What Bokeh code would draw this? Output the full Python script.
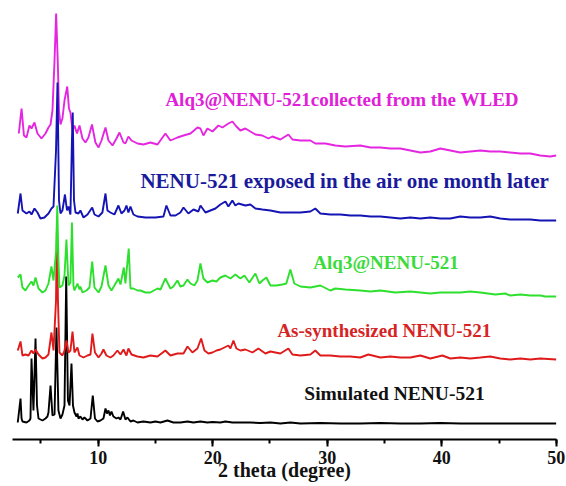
from bokeh.plotting import figure
from bokeh.models import Range1d, Label, SingleIntervalTicker
from bokeh.embed import file_html
from bokeh.resources import INLINE

# ---- data: 2 theta (degree) and stacked intensity (a.u.) ----
sim_x = [2.98, 3.22, 3.31, 3.39, 3.74, 4.00, 4.09, 4.18, 4.35, 4.53, 4.66, 4.79, 5.14, 5.40, 5.57, 5.66,
         5.84, 6.01, 6.19, 6.36, 6.53, 6.71, 6.88, 7.06, 7.21, 7.36, 7.50, 7.67, 7.80, 7.93, 8.11, 8.19,
         8.28, 8.45, 8.63, 8.80, 9.07, 9.33, 9.53, 9.72, 9.94, 10.20, 10.46, 10.64, 10.77, 10.90, 11.03,
         11.16, 11.33, 11.60, 11.77, 11.95, 12.18, 12.38, 12.56, 12.82, 13.08, 13.43, 13.95, 14.56, 15.00,
         15.44, 16.05, 16.57, 17.18, 17.80, 18.32, 18.93, 19.54, 19.98, 20.67, 21.11, 21.72, 22.42, 23.29,
         24.17, 25.04, 25.91, 26.78, 27.66, 29.40, 31.15, 32.89, 34.64, 36.38, 38.13, 39.88, 41.62, 43.37,
         45.11, 46.86, 48.60, 50.00]
sim_y = [17, 41, 21, 18, 17, 19, 21, 81, 29, 101, 34, 21, 19, 21, 23, 27,
         54, 24, 25, 112, 29, 21, 25, 34, 163, 39, 34, 76, 34, 27, 23, 26,
         21, 23, 20, 22, 19, 21, 44, 21, 18, 19, 21, 31, 26, 29, 24,
         28, 23, 21, 22, 20, 28, 20, 22, 18, 19, 17, 18, 17, 18,
         17, 19, 17, 17, 18, 17, 18, 17, 17.5, 17, 18, 17, 17, 17,
         16.5, 17, 16, 17, 16, 16.5, 16, 16, 16.5, 16, 16, 16.5, 16, 16,
         16, 16, 16, 16]

asy_x = [2.98, 3.22, 3.39, 3.65, 3.92, 4.18, 4.35, 4.53, 4.79, 5.14, 5.40, 5.66, 5.92, 6.10, 6.32, 6.40,
         6.49, 6.62, 6.88, 7.06, 7.23, 7.41, 7.58, 7.76, 7.93, 8.19, 8.37, 8.72, 9.07, 9.33, 9.50, 9.72,
         10.03, 10.29, 10.46, 10.72, 11.07, 11.33, 11.68, 11.95, 12.21, 12.47, 12.64, 12.91, 13.43, 13.95,
         14.56, 15.18, 15.87, 16.31, 16.92, 17.45, 17.80, 18.23, 18.67, 18.99, 19.28, 19.63, 19.98, 20.33,
         20.67, 21.02, 21.37, 21.55, 21.81, 22.07, 22.42, 22.86, 23.47, 23.99, 24.60, 25.04, 25.91, 26.61,
         26.96, 27.66, 28.53, 28.96, 29.40, 30.27, 31.15, 32.02, 32.89, 33.59, 34.64, 35.51, 36.38, 37.26,
         38.13, 39.00, 40.05, 40.75, 41.62, 42.49, 43.37, 44.24, 45.11, 45.98, 46.86, 47.73, 48.60, 50.00]
asy_y = [89, 98, 84, 85, 84, 89, 86, 90, 85, 81, 82, 85, 107, 89, 139, 214,
         139, 87, 84, 89, 99, 87, 89, 108, 87, 92, 84, 82, 84, 85, 106, 87,
         82, 86, 90, 84, 82, 84, 89, 85, 90, 84, 91, 85, 83, 82,
         84, 83, 89, 84, 86, 86, 93, 87, 91, 101, 89, 86, 87, 89,
         90, 92, 94, 91, 99, 91, 89, 90, 87, 91, 86, 88, 86, 91,
         85, 84, 85, 89, 84, 84, 83, 83, 82, 85, 82, 83, 82, 82,
         84, 81, 84, 81, 82, 81, 82, 83, 81, 80, 81, 80, 81, 80]

alq_x = [2.98, 3.22, 3.39, 3.65, 3.92, 4.18, 4.35, 4.53, 4.79, 5.14, 5.40, 5.66, 5.92, 6.10, 6.33, 6.43,
         6.53, 6.62, 6.88, 7.06, 7.23, 7.41, 7.58, 7.71, 7.84, 7.93, 8.19, 8.37, 8.45, 8.63, 8.98, 9.24,
         9.48, 9.68, 10.03, 10.29, 10.64, 10.90, 11.16, 11.42, 11.77, 11.95, 12.24, 12.38, 12.67, 12.82,
         13.08, 13.43, 13.69, 14.13, 14.56, 15.18, 15.44, 15.87, 16.31, 16.57, 16.92, 17.18, 17.45, 17.80,
         18.06, 18.40, 18.67, 18.93, 19.19, 19.54, 19.98, 20.33, 20.67, 21.11, 21.55, 21.98, 22.42, 22.77,
         23.20, 23.73, 24.08, 24.34, 24.69, 25.04, 25.56, 26.08, 26.43, 26.78, 27.13, 27.66, 28.53, 29.40,
         30.27, 30.71, 31.58, 32.89, 33.77, 34.64, 35.95, 37.26, 38.13, 39.00, 39.88, 40.75, 41.62, 42.49,
         43.37, 44.67, 45.55, 45.98, 46.86, 47.73, 48.60, 49.04, 50.00]
alq_y = [162, 165, 152, 149, 154, 158, 154, 162, 151, 147, 149, 156, 173, 159, 189, 234,
         179, 152, 154, 164, 200, 154, 157, 217, 154, 149, 156, 150, 153, 147, 149, 152,
         178, 152, 147, 153, 174, 154, 149, 154, 161, 155, 172, 156, 191, 151,
         151, 149, 149, 147, 147, 151, 150, 161, 151, 153, 159, 153, 154, 160,
         156, 154, 159, 176, 161, 157, 159, 158, 162, 164, 161, 165, 161, 164,
         157, 166, 156, 159, 162, 154, 154, 155, 156, 170, 156, 153, 152, 154,
         149, 151, 150, 149, 148, 149, 147, 148, 147, 146, 147, 147, 147, 148,
         147, 145, 146, 144, 145, 144, 144, 143, 143]

air_x = [2.98, 3.22, 3.39, 3.74, 4.00, 4.18, 4.44, 4.70, 4.96, 5.31, 5.66, 5.92, 6.10, 6.32, 6.45, 6.58,
         6.71, 6.88, 7.10, 7.28, 7.41, 7.58, 7.71, 7.78, 7.89, 8.02, 8.28, 8.45, 8.72, 9.07, 9.48, 9.68,
         10.03, 10.37, 10.64, 10.81, 11.07, 11.42, 11.77, 12.03, 12.30, 12.47, 12.64, 12.82, 13.08, 13.43,
         14.13, 15.00, 15.70, 15.96, 16.31, 16.75, 17.18, 17.45, 17.88, 18.32, 18.75, 18.93, 19.37, 19.80,
         20.24, 20.67, 21.11, 21.37, 21.72, 21.98, 22.24, 22.86, 23.29, 23.73, 24.34, 25.04, 25.91, 26.78,
         27.66, 28.53, 28.96, 29.40, 30.27, 31.15, 32.02, 32.89, 33.77, 34.64, 35.51, 36.38, 37.26, 38.13,
         39.00, 39.88, 40.75, 41.62, 42.49, 43.37, 44.24, 45.11, 45.98, 46.86, 47.73, 48.60, 50.00]
air_y = [226, 246, 229, 226, 228, 225, 231, 227, 221, 222, 226, 231, 233, 289, 357, 239,
         226, 229, 245, 229, 233, 225, 299, 327, 239, 227, 226, 229, 222, 225, 232, 225,
         223, 227, 246, 229, 227, 225, 234, 226, 229, 234, 227, 233, 225, 223,
         222, 222, 223, 234, 224, 224, 227, 232, 226, 230, 228, 234, 227, 229,
         231, 235, 238, 233, 239, 234, 236, 234, 235, 231, 230, 229, 227, 227,
         227, 228, 231, 226, 225, 225, 224, 224, 223, 223, 222, 221, 222, 221,
         222, 221, 221, 223, 222, 222, 223, 221, 220, 220, 220, 219, 219]

wled_x = [3.07, 3.31, 3.52, 3.74, 4.00, 4.18, 4.44, 4.70, 5.05, 5.40, 5.66, 5.84, 6.01, 6.19, 6.33, 6.47,
          6.58, 6.71, 6.88, 7.06, 7.30, 7.45, 7.58, 7.76, 7.93, 8.15, 8.37, 8.63, 8.89, 9.15, 9.46, 9.76,
          10.03, 10.29, 10.64, 10.90, 11.25, 11.60, 11.86, 12.21, 12.38, 12.64, 12.91, 13.43, 13.95, 14.56,
          15.18, 15.87, 16.31, 16.92, 17.45, 18.06, 18.67, 18.93, 19.19, 19.54, 19.98, 20.50, 20.85, 21.37,
          21.72, 22.07, 22.42, 22.86, 23.29, 23.73, 24.34, 24.86, 25.21, 25.91, 26.61, 26.96, 27.66, 28.53,
          28.96, 29.84, 30.71, 31.58, 32.89, 33.77, 34.64, 35.51, 36.38, 37.26, 38.13, 39.00, 39.88, 40.75,
          41.62, 42.49, 43.37, 44.24, 45.11, 45.98, 46.86, 47.73, 48.60, 49.47, 50.00]
wled_y = [306, 331, 304, 302, 314, 311, 317, 306, 301, 306, 312, 315, 329, 379, 426, 379,
          329, 315, 321, 339, 353, 331, 327, 309, 314, 306, 314, 301, 297, 302, 315, 297,
          292, 299, 312, 299, 294, 301, 307, 297, 296, 303, 299, 296, 295, 297,
          295, 306, 299, 302, 304, 306, 312, 311, 304, 311, 308, 314, 312, 316,
          318, 313, 309, 311, 308, 305, 304, 301, 303, 300, 305, 300, 299, 299,
          296, 296, 294, 293, 294, 292, 292, 291, 291, 289, 287, 288, 291, 289,
          287, 288, 289, 288, 288, 287, 286, 286, 284, 283, 284]

series_names = ["Simulated NENU-521", "As-synthesized NENU-521", "Alq3@NENU-521",
                "NENU-521 exposed in the air one month later",
                "Alq3@NENU-521collected from the WLED"]
x_ticks = [10, 20, 30, 40, 50]
x_title = "2 theta (degree)"

# ---- figure ----
p = figure(width=566, height=486, output_backend="svg", toolbar_location=None,
           x_range=Range1d(2.52, 50.02), y_range=Range1d(0, 431),
           y_axis_location=None, min_border_left=12, min_border_right=10,
           min_border_top=8, min_border_bottom=47)
p.outline_line_color = None
p.xgrid.visible = False
p.ygrid.visible = False
p.background_fill_color = "white"

lw = 1.9
p.line(wled_x, wled_y, color="#E526E0", line_width=lw)
p.line(sim_x, sim_y, color="#000000", line_width=lw)
p.line(asy_x, asy_y, color="#E01A1A", line_width=lw)
p.line(alq_x, alq_y, color="#2EE02E", line_width=lw)
p.line(air_x, air_y, color="#1414B4", line_width=lw)

ax = p.xaxis[0]
ax.ticker = SingleIntervalTicker(interval=10, num_minor_ticks=2)
ax.axis_line_width = 2
ax.axis_line_color = "black"
ax.major_tick_line_width = 2
ax.minor_tick_line_width = 2
ax.major_tick_in = 0
ax.major_tick_out = 7
ax.minor_tick_in = 0
ax.minor_tick_out = 4
ax.major_label_text_font = "Liberation Serif"
ax.major_label_text_font_style = "bold"
ax.major_label_text_font_size = "18px"
ax.major_label_text_color = "#111111"
ax.major_label_standoff = 4
ax.axis_label = x_title
ax.axis_label_text_font = "Liberation Serif"
ax.axis_label_text_font_style = "bold"
ax.axis_label_text_font_size = "20px"
ax.axis_label_text_color = "#111111"
ax.axis_label_standoff = -8

font = "Liberation Serif"
labels = [
    (series_names[4], 15.87, 340, "#E020D8", "19px"),
    (series_names[3], 13.69, 259, "#1A1A9C", "21px"),
    (series_names[2], 28.79, 177, "#3BDB3B", "19px"),
    (series_names[1], 25.65, 109, "#D62424", "19px"),
    (series_names[0], 28.00, 46, "#111111", "19.5px"),
]
for txt, lx, ly, col, fs in labels:
    p.add_layout(Label(x=lx, y=ly, text=txt, text_color=col, text_font=font,
                       text_font_style="bold", text_font_size=fs,
                       text_align="left", text_baseline="middle"))

open("out.html", "w").write(file_html(p, INLINE))
